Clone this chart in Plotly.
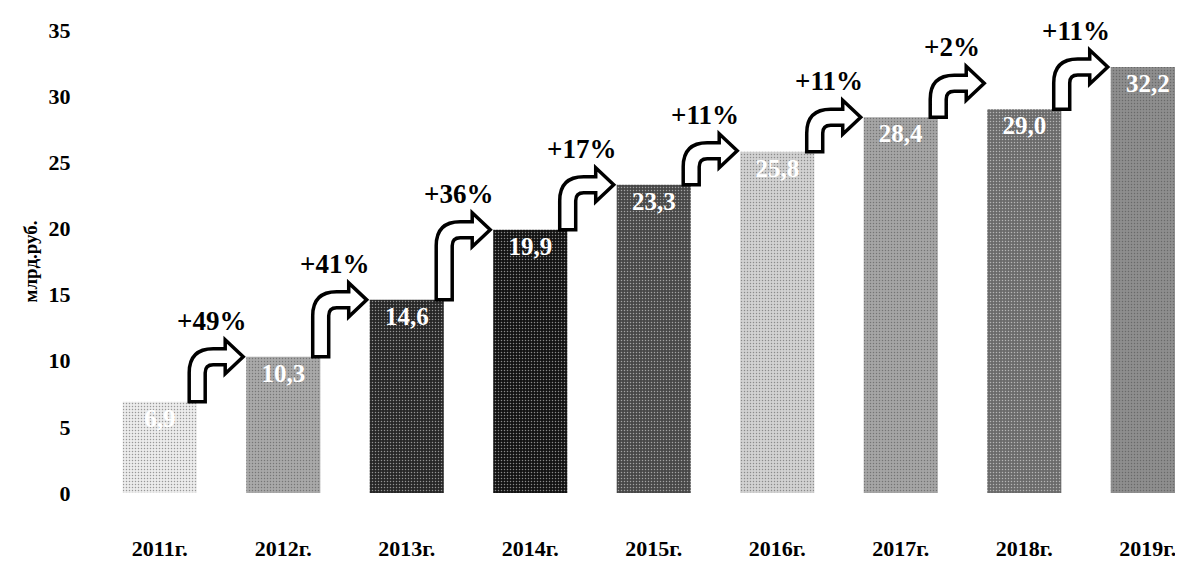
import plotly.graph_objects as go

years = ["2011г.", "2012г.", "2013г.", "2014г.", "2015г.", "2016г.", "2017г.", "2018г.", "2019г."]
values = [6.9, 10.3, 14.6, 19.9, 23.3, 25.8, 28.4, 29.0, 32.2]
growth = ["+49%", "+41%", "+36%", "+17%", "+11%", "+11%", "+2%", "+11%"]
bar_colors = ["#ececec", "#a9a9a9", "#262626", "#121212", "#474747",
              "#d2d2d2", "#a5a5a5", "#6a6a6a", "#8e8e8e"]

W, H = 1183, 575
ML, MR, MT, MB = 90, 0, 22, 90
XR = [-0.5, 8.35]
YR = [0, 35]
pxx = (W - ML - MR) / (XR[1] - XR[0])
pxy = (H - MT - MB) / (YR[1] - YR[0])

FONT = "Liberation Serif"
xs = list(range(len(years)))
labels = [f"{v:.1f}".replace(".", ",") for v in values]

fig = go.Figure()
fig.add_trace(go.Bar(
    x=xs, y=values, width=0.6,
    marker=dict(color=bar_colors, line=dict(width=0),
                pattern=dict(shape=".", fgcolor="rgba(255,255,255,0.3)", size=3, solidity=0.2)),
    text=labels, textposition="inside", insidetextanchor="end", textangle=0,
    constraintext="none",
    textfont=dict(family=FONT, size=25, color="white", weight="bold"),
    hoverinfo="skip",
))

# bent arrows between bars
w = 8       # half thickness, px
r = 16      # bend radius, px
hh = 9      # extra head half-height, px
hl = 18     # head length, px
for i in range(1, len(values)):
    prev, nxt = values[i - 1], values[i]
    tip_x = i - 0.3 - 3 / pxx
    sx = tip_x - 46 / pxx          # stem centre
    ay = max(nxt, prev + 34 / pxy)  # arm centre line
    L = (ay - prev) * pxy            # stem length in px

    def P(px, py):
        return f"{sx + px / pxx:.5f},{ay + py / pxy:.5f}"

    xh = 46 - hl
    path = (
        f"M{P(-w, -L)} L{P(-w, -r)} Q{P(-w, w)} {P(r, w)} "
        f"L{P(xh, w)} L{P(xh, w + hh)} L{P(46, 0)} L{P(xh, -w - hh)} L{P(xh, -w)} "
        f"L{P(r, -w)} Q{P(w, -w)} {P(w, -r)} L{P(w, -L)} Z"
    )
    fig.add_shape(type="path", path=path, xref="x", yref="y",
                  fillcolor="white", line=dict(color="black", width=3.5), layer="above")
    fig.add_annotation(x=sx + 14 / pxx, y=ay + (w + hh + 2) / pxy, text=growth[i - 1],
                       showarrow=False, xanchor="center", yanchor="bottom",
                       font=dict(family=FONT, size=27, color="black", weight="bold"))

fig.add_annotation(x=(22 - ML) / (W - ML - MR), xref="paper", y=0.5, yref="paper",
                   text="млрд.руб.",
                   textangle=-90, showarrow=False, xanchor="center", yanchor="middle",
                   font=dict(family=FONT, size=19, color="black", weight="bold"))
fig.update_layout(
    width=W, height=H,
    margin=dict(l=ML, r=MR, t=MT, b=MB),
    paper_bgcolor="white", plot_bgcolor="white",
    showlegend=False, bargap=0.4,
    xaxis=dict(range=XR, tickvals=xs, ticktext=years, showgrid=False, zeroline=False,
               showline=False, ticks="outside", ticklen=36, tickcolor="rgba(0,0,0,0)",
               tickfont=dict(family=FONT, size=22, color="black", weight="bold")),
    yaxis=dict(range=YR, dtick=5, showgrid=False, zeroline=False, showline=False,
               ticks="outside", ticklen=22, tickcolor="rgba(0,0,0,0)",
               tickfont=dict(family=FONT, size=22, color="black", weight="bold")),
)
fig.write_html("out.html")
